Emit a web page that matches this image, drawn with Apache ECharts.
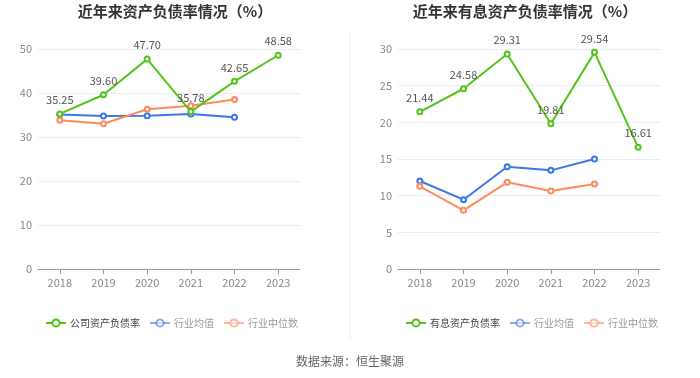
<!DOCTYPE html>
<html><head><meta charset="utf-8">
<script src="https://cdn.jsdelivr.net/npm/echarts@6/dist/echarts.min.js"></script>
<style>html,body{margin:0;padding:0;background:#fff}#c{width:700px;height:378px}</style>
</head><body><div id="c"></div>
<script>
const years = ['2018','2019','2020','2021','2022','2023'];
const leftCompany = [35.25, 39.60, 47.70, 35.78, 42.65, 48.58];
const leftAvg = [35.1, 34.8, 34.85, 35.2, 34.5];
const leftMedian = [33.8, 33.0, 36.3, 37.1, 38.5];
const rightCompany = [21.44, 24.58, 29.31, 19.81, 29.54, 16.61];
const rightAvg = [12.0, 9.45, 13.95, 13.45, 15.0];
const rightMedian = [11.28, 8.0, 11.82, 10.64, 11.6];
const leftTicks = [0, 10, 20, 30, 40, 50];
const rightTicks = [0, 5, 10, 15, 20, 25, 30];
const GREEN = '#52c41a', BLUE = '#3a78e8', ORANGE = '#ff8a5c';
const font = '"Noto Sans CJK SC", "Noto Sans", sans-serif';

function line(name, data, color, xi, showLabel, z) {
  return {
    name, type: 'line', data, xAxisIndex: xi, yAxisIndex: xi, z: z,
    symbol: 'emptyCircle', symbolSize: 5, smooth: false,
    lineStyle: { color, width: 2 }, itemStyle: { color, borderWidth: 1.5 },
    label: showLabel ? { show: true, position: 'top', color: '#555', fontSize: 11, fontFamily: font, formatter: p => p.value.toFixed(2) } : { show: false },
    emphasis: { disabled: true }
  };
}
function legend(names, left) {
  return {
    left, top: 318, itemWidth: 20, itemHeight: 9, itemGap: 9, padding: 0,
    data: [
      { name: names[0], textStyle: { color: '#444' } },
      { name: names[1], textStyle: { color: '#999' }, itemStyle: { opacity: 0.6 }, lineStyle: { opacity: 0.6 } },
      { name: names[2], textStyle: { color: '#999' }, itemStyle: { opacity: 0.6 }, lineStyle: { opacity: 0.6 } }
    ],
    textStyle: { fontSize: 10, fontFamily: font, padding: [0, 0, 0, -1] }
  };
}
function xAxis(gi) {
  return { type: 'category', data: years, gridIndex: gi, boundaryGap: true,
    axisLine: { lineStyle: { color: '#999' } }, axisTick: { show: true, alignWithLabel: true, lineStyle: { color: '#999' } },
    axisLabel: { color: '#888', fontSize: 11, fontFamily: font, margin: 8 } };
}
function yAxis(gi, ticks) {
  return { type: 'value', gridIndex: gi, min: ticks[0], max: ticks[ticks.length - 1], interval: ticks[1] - ticks[0],
    axisLine: { show: false }, axisTick: { show: false },
    axisLabel: { color: '#888', fontSize: 11, fontFamily: font, margin: 6 },
    splitLine: { lineStyle: { color: '#e8ecf3' } } };
}
const chart = echarts.init(document.getElementById('c'));
chart.setOption({
  animation: false,
  title: [
    { text: '近年来资产负债率情况（%）', left: 175, textAlign: 'center', top: 4, padding: 0, textStyle: { fontSize: 15, fontWeight: 'bold', color: '#333', fontFamily: font } },
    { text: '近年来有息资产负债率情况（%）', left: 525, textAlign: 'center', top: 4, padding: 0, textStyle: { fontSize: 15, fontWeight: 'bold', color: '#333', fontFamily: font } },
    { text: '数据来源：恒生聚源', left: 350, textAlign: 'center', top: 355, padding: 0, textStyle: { fontSize: 12, fontWeight: 'normal', color: '#666', fontFamily: font } }
  ],
  legend: [legend(['公司资产负债率', '行业均值', '行业中位数'], 45), legend(['有息资产负债率', '行业均值', '行业中位数'], 405)],
  grid: [
    { left: 38, width: 262, top: 49, height: 220 },
    { left: 398, width: 262, top: 49, height: 220 }
  ],
  xAxis: [xAxis(0), xAxis(1)],
  yAxis: [yAxis(0, leftTicks), yAxis(1, rightTicks)],
  graphic: [{ type: 'line', shape: { x1: 350, y1: 30, x2: 350, y2: 340 }, style: { stroke: '#eeeeee', lineWidth: 1 } }],
  series: [
    line('公司资产负债率', leftCompany, GREEN, 0, true, 3),
    line('行业均值', leftAvg, BLUE, 0, false, 2),
    line('行业中位数', leftMedian, ORANGE, 0, false, 2),
    line('有息资产负债率', rightCompany, GREEN, 1, true, 3),
    line('行业均值', rightAvg, BLUE, 1, false, 2),
    line('行业中位数', rightMedian, ORANGE, 1, false, 2)
  ]
});
</script></body></html>
